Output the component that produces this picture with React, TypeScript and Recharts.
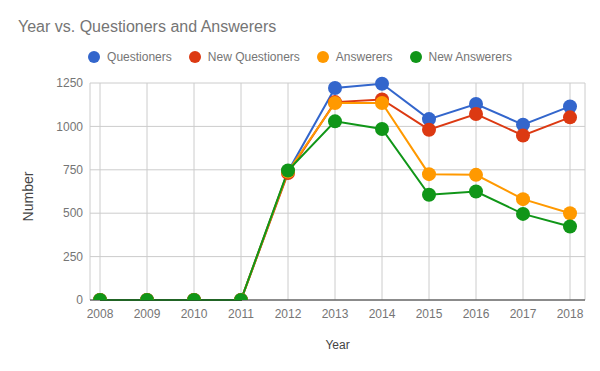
import {
  LineChart,
  Line,
  XAxis,
  YAxis,
  CartesianGrid,
  Legend,
} from "recharts";

const YEARS = [2008, 2009, 2010, 2011, 2012, 2013, 2014, 2015, 2016, 2017, 2018];

const QUESTIONERS = [0, 0, 0, 0, 740, 1221, 1246, 1042, 1129, 1010, 1115];
const NEW_QUESTIONERS = [0, 0, 0, 0, 731, 1140, 1155, 981, 1071, 948, 1052];
const ANSWERERS = [0, 0, 0, 0, 740, 1135, 1135, 725, 721, 581, 500];
const NEW_ANSWERERS = [0, 0, 0, 0, 746, 1029, 985, 606, 625, 496, 423];

const Y_TICKS = [0, 250, 500, 750, 1000, 1250];

const SERIES = [
  { key: "questioners", name: "Questioners", color: "#3366cc", values: QUESTIONERS },
  { key: "newQuestioners", name: "New Questioners", color: "#dc3912", values: NEW_QUESTIONERS },
  { key: "answerers", name: "Answerers", color: "#ff9900", values: ANSWERERS },
  { key: "newAnswerers", name: "New Answerers", color: "#109618", values: NEW_ANSWERERS },
];

const data = YEARS.map((year, i) => {
  const row: Record<string, number> = { year };
  SERIES.forEach((s) => {
    row[s.key] = s.values[i];
  });
  return row;
});

const FONT = "Arial, 'Liberation Sans', sans-serif";

// dots sitting on the baseline get their lower half cut off, like the original
function makeDot(color: string) {
  return (props: any) => {
    const { cx, cy, value, index } = props;
    const r = 7;
    if (cx == null || cy == null) return <g key={index} />;
    if (value === 0) {
      return (
        <path
          key={index}
          d={`M${cx - r},${cy} A${r},${r} 0 0 1 ${cx + r},${cy} Z`}
          fill={color}
        />
      );
    }
    return <circle key={index} cx={cx} cy={cy} r={r} fill={color} />;
  };
}

function renderLegend() {
  return (
    <div
      style={{
        display: "flex",
        justifyContent: "center",
        alignItems: "center",
        height: 16,
        fontSize: 12,
        color: "#757575",
        fontFamily: FONT,
      }}
    >
      {SERIES.map((s, i) => (
        <div
          key={s.key}
          style={{
            display: "flex",
            alignItems: "center",
            marginRight: i < SERIES.length - 1 ? 17 : 0,
          }}
        >
          <svg width={12} height={12} style={{ marginRight: 7 }}>
            <circle cx={6} cy={6} r={6} fill={s.color} />
          </svg>
          <span>{s.name}</span>
        </div>
      ))}
    </div>
  );
}

export default function App() {
  return (
    <div
      style={{
        position: "absolute",
        left: 0,
        top: 0,
        width: 600,
        height: 371,
        background: "#fff",
        fontFamily: FONT,
      }}
    >
      <div
        style={{
          position: "absolute",
          left: 18,
          top: 18,
          fontSize: 16,
          color: "#757575",
          whiteSpace: "nowrap",
        }}
      >
        Year vs. Questioners and Answerers
      </div>
      <LineChart
        width={600}
        height={371}
        data={data}
        margin={{ top: 67, right: 15, bottom: 0, left: 0 }}
        style={{ fontFamily: FONT }}
      >
        <CartesianGrid stroke="#cccccc" />
        <XAxis
          dataKey="year"
          type="number"
          domain={[2008, 2018]}
          ticks={YEARS}
          padding={{ left: 10, right: 15 }}
          height={71}
          tickSize={0}
          tickMargin={9}
          tickLine={false}
          axisLine={{ stroke: "#333333", strokeWidth: 1 }}
          tick={{ fill: "#757575", fontSize: 12 }}
          label={{
            value: "Year",
            position: "insideBottom",
            offset: 22,
            fill: "#444444",
            fontSize: 12,
          }}
        />
        <YAxis
          type="number"
          domain={[0, 1250]}
          ticks={Y_TICKS}
          width={90}
          tickSize={0}
          tickMargin={7}
          tickLine={false}
          axisLine={false}
          tick={{ fill: "#757575", fontSize: 12 }}
          label={{
            value: "Number",
            angle: -90,
            position: "insideLeft",
            offset: 28,
            dy: 5,
            fill: "#444444",
            fontSize: 14,
            style: { textAnchor: "middle" },
          }}
        />
        <Legend
          verticalAlign="top"
          content={renderLegend}
          wrapperStyle={{ left: 0, width: 600, top: 49 }}
        />
        {SERIES.map((s) => (
          <Line
            key={s.key}
            dataKey={s.key}
            name={s.name}
            stroke={s.color}
            strokeWidth={2}
            dot={makeDot(s.color)}
            activeDot={false}
            isAnimationActive={false}
          />
        ))}
      </LineChart>
    </div>
  );
}
